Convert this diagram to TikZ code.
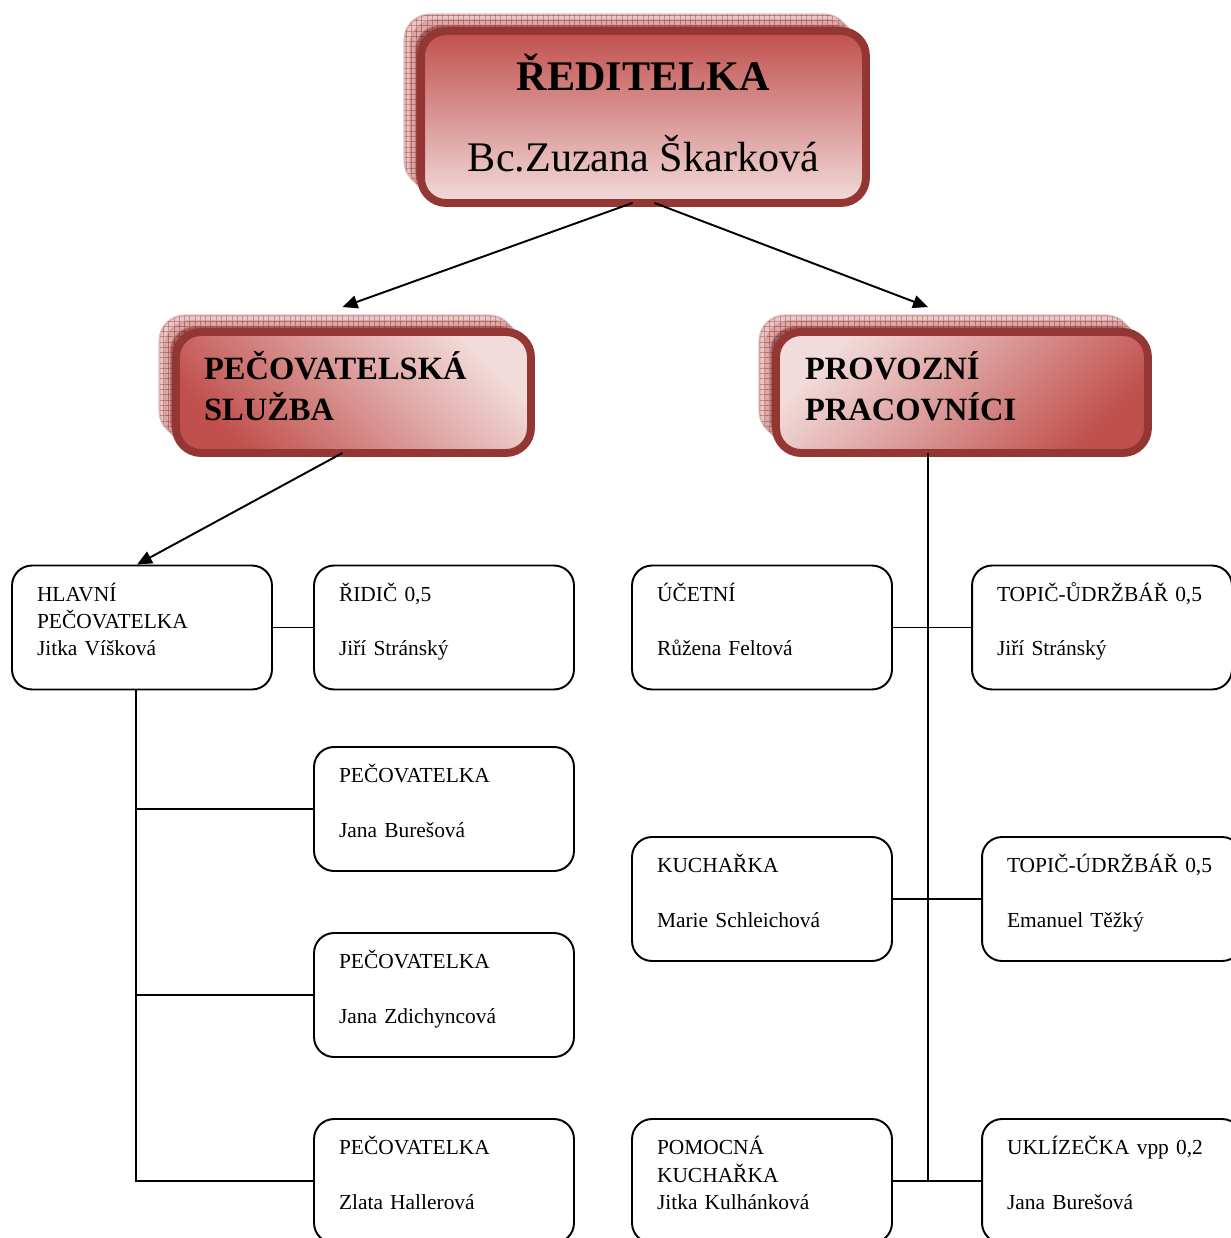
\documentclass[tikz,border=0pt]{standalone}
\usepackage{fontspec}
\setmainfont{Liberation Serif}
\usetikzlibrary{shadows,patterns,calc,arrows.meta}
\definecolor{hdred}{HTML}{C0504D}
\definecolor{hdpink}{HTML}{F2DCDB}
\definecolor{hdrim}{HTML}{943634}
\begin{document}
\begin{tikzpicture}[x=0.02cm,y=-0.02cm,
  layer/.style 2 args={
    copy shadow={shadow xshift=-#1,shadow yshift=#1,fill=#2,draw=hdrim!50,line width=1.2pt,opacity=0.6},
    copy shadow={shadow xshift=-#1,shadow yshift=#1,pattern=grid,pattern color=hdrim,draw=none,opacity=0.4}},
  head/.style={layer={0.33cm}{hdpink!60!hdred},layer={0.22cm}{hdpink!50!hdred},layer={0.12cm}{hdrim!80!black},
    draw=hdrim,line width=4.5pt,rounded corners=0.5cm},
  staff/.style={draw,line width=1.1pt,rounded corners=0.4cm,
    minimum width=5.2cm,minimum height=2.48cm,text width=4.2cm,inner xsep=0.5cm,
    text height=11pt,text depth=41pt,
    align=left,font=\fontsize{12.2}{15.6}\selectfont},
  link/.style={line width=1.1pt},
  arr/.style={line width=1.1pt,-{Triangle[length=0.3cm,width=0.26cm]}}]
\clip (0,0) rectangle (1231,1238);

\node[head,top color=hdred,bottom color=hdpink,minimum width=8.9cm,minimum height=3.44cm,
  text height=68pt,text depth=5.6pt,
  align=center,font=\fontsize{24}{46.5}\selectfont] (dir) at (643.5,117)
  {\textbf{ŘEDITELKA}\\Bc.Zuzana Škarková};

\node[head,top color=hdpink,bottom color=hdred,shading angle=-45,
  minimum width=7.1cm,minimum height=2.42cm,text width=5.98cm,inner xsep=0.56cm,
  text height=16pt,text depth=30.5pt,
  align=left,font=\bfseries\fontsize{18.5}{23.2}\selectfont] (pec) at (353.5,392.5)
  {PEČOVATELSKÁ\\SLUŽBA};
\node[head,top color=hdpink,bottom color=hdred,shading angle=45,
  minimum width=7.44cm,minimum height=2.42cm,text width=6.28cm,inner xsep=0.58cm,
  text height=16pt,text depth=30.5pt,
  align=left,font=\bfseries\fontsize{18.5}{23.2}\selectfont] (prov) at (962,392.5)
  {PROVOZNÍ\\PRACOVNÍCI};

\node[staff] (hlavni) at (142,627.5) {HLAVNÍ\\PEČOVATELKA\\Jitka Víšková};
\node[staff] (ridic) at (444,627.5) {ŘIDIČ 0,5\\\mbox{}\\Jiří Stránský};
\node[staff] (pec1) at (444,809) {PEČOVATELKA\\\mbox{}\\Jana Burešová};
\node[staff] (pec2) at (444,995) {PEČOVATELKA\\\mbox{}\\Jana Zdichyncová};
\node[staff] (pec3) at (444,1181) {PEČOVATELKA\\\mbox{}\\Zlata Hallerová};

\node[staff] (ucetni) at (762,627.5) {ÚČETNÍ\\\mbox{}\\Růžena Feltová};
\node[staff] (topic1) at (1102,627.5) {\mbox{TOPIČ-ŮDRŽBÁŘ 0,5}\\\mbox{}\\Jiří Stránský};
\node[staff] (kuch) at (762,899) {KUCHAŘKA\\\mbox{}\\Marie Schleichová};
\node[staff] (topic2) at (1112,899) {\mbox{TOPIČ-ÚDRŽBÁŘ 0,5}\\\mbox{}\\Emanuel Těžký};
\node[staff] (pomoc) at (762,1181) {POMOCNÁ\\KUCHAŘKA\\Jitka Kulhánková};
\node[staff] (ukl) at (1112,1181) {UKLÍZEČKA vpp 0,2\\\mbox{}\\Jana Burešová};

\draw[arr] ($(dir.south)+(-11,-4)$) -- ($(pec.north)+(-11,-21)$);
\draw[arr] ($(dir.south)+(11,-4)$) -- ($(prov.north)+(-34,-21)$);
\draw[arr] ($(pec.south)+(-11,-4)$) -- ($(hlavni.north)+(-5,0)$);

\coordinate (lt) at ($(hlavni.south)+(-6,0)$);
\draw[link] (hlavni.east) -- (ridic.west);
\draw[link] (lt) |- (pec3.west);
\draw[link] (lt |- pec1.west) -- (pec1.west);
\draw[link] (lt |- pec2.west) -- (pec2.west);

\coordinate (rt) at ($(prov.south)+(-34,-4)$);
\draw[link] (rt) -- (rt |- ukl.west);
\draw[link] (ucetni.east) -- (topic1.west);
\draw[link] (kuch.east) -- (topic2.west);
\draw[link] (pomoc.east) -- (ukl.west);
\end{tikzpicture}
\end{document}
